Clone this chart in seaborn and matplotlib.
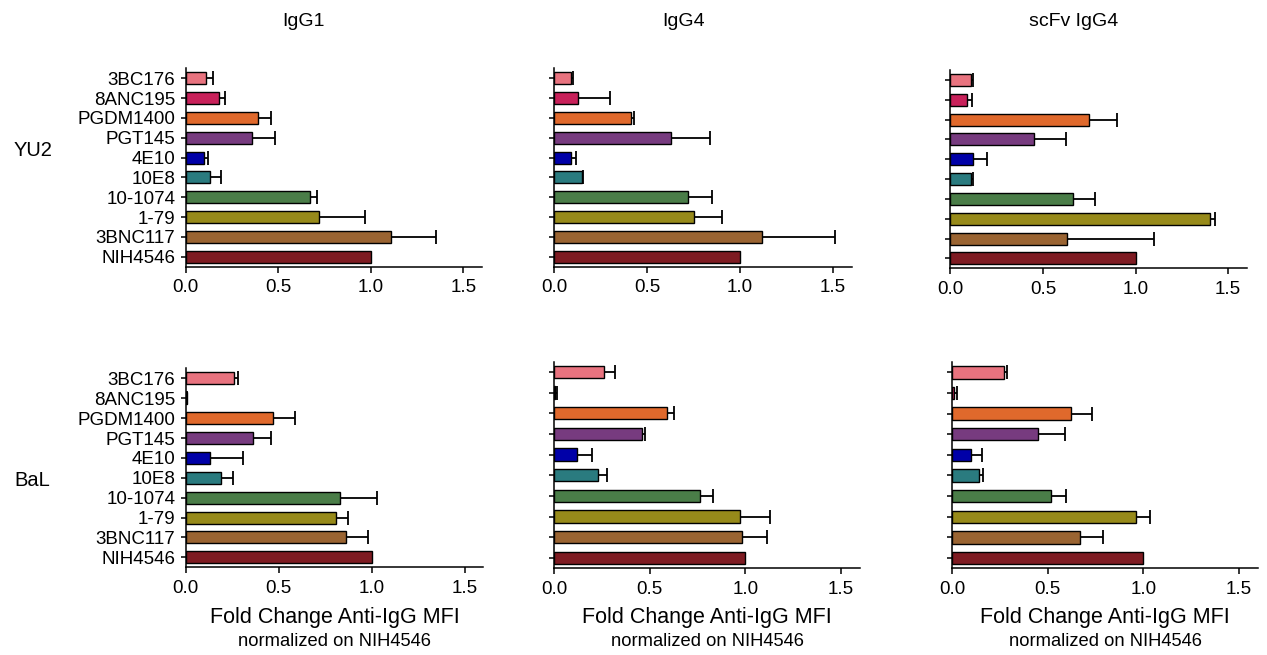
import numpy as np
import pandas as pd
import seaborn as sns
import matplotlib.pyplot as plt

# data (mean and positive error, fold change vs NIH4546)
antibodies = ['3BC176', '8ANC195', 'PGDM1400', 'PGT145', '4E10', '10E8',
              '10-1074', '1-79', '3BNC117', 'NIH4546']
colors = ['#E8737F', '#C8215A', '#E0692C', '#773B7F', '#0000A8', '#2A7B7F',
          '#4A7D48', '#978A1A', '#9A6432', '#7E1B22']
formats = ['IgG1', 'IgG4', 'scFv IgG4']
viruses = ['YU2', 'BaL']

yu2_igg1 = [0.11, 0.18, 0.39, 0.36, 0.10, 0.13, 0.67, 0.72, 1.11, 1.00]
yu2_igg1_err = [0.04, 0.03, 0.07, 0.12, 0.02, 0.06, 0.04, 0.25, 0.24, 0.0]
yu2_igg4 = [0.09, 0.13, 0.41, 0.63, 0.09, 0.15, 0.72, 0.75, 1.12, 1.00]
yu2_igg4_err = [0.013, 0.17, 0.02, 0.21, 0.026, 0.007, 0.13, 0.15, 0.39, 0.0]
yu2_scfv = [0.11, 0.09, 0.75, 0.45, 0.12, 0.11, 0.66, 1.40, 0.63, 1.00]
yu2_scfv_err = [0.012, 0.029, 0.15, 0.175, 0.08, 0.013, 0.12, 0.027, 0.47, 0.0]

bal_igg1 = [0.26, 0.005, 0.47, 0.36, 0.13, 0.19, 0.83, 0.81, 0.86, 1.00]
bal_igg1_err = [0.022, 0.004, 0.115, 0.10, 0.18, 0.066, 0.20, 0.06, 0.12, 0.0]
bal_igg4 = [0.26, 0.005, 0.59, 0.46, 0.12, 0.23, 0.76, 0.97, 0.98, 1.00]
bal_igg4_err = [0.06, 0.011, 0.034, 0.014, 0.075, 0.048, 0.071, 0.158, 0.134, 0.0]
bal_scfv = [0.27, 0.01, 0.62, 0.45, 0.10, 0.14, 0.52, 0.96, 0.67, 1.00]
bal_scfv_err = [0.017, 0.014, 0.113, 0.139, 0.059, 0.021, 0.075, 0.075, 0.117, 0.0]

panels = [
    (yu2_igg1, yu2_igg1_err), (yu2_igg4, yu2_igg4_err), (yu2_scfv, yu2_scfv_err),
    (bal_igg1, bal_igg1_err), (bal_igg4, bal_igg4_err), (bal_scfv, bal_scfv_err),
]

sns.set_theme(style='ticks')
plt.rcParams['font.family'] = ['Liberation Sans', 'DejaVu Sans']
plt.rcParams['axes.linewidth'] = 1.1
for key in ['text.color', 'axes.labelcolor', 'xtick.color', 'ytick.color', 'axes.edgecolor']:
    plt.rcParams[key] = 'black'

W, H = 1267, 655
fig = plt.figure(figsize=(W / 100, H / 100), dpi=100)

# axes boxes in pixels: left, right, top, bottom
boxes = [
    (185.7, 482, 68.4, 266.6), (554.3, 851.7, 68.4, 266.6), (950.3, 1246.7, 70, 268.3),
    (185.7, 483.3, 368.4, 567.3), (554.3, 860, 361.5, 568.3), (952, 1258, 362, 568.3),
]

for i, ((vals, errs), (l, r, t, b)) in enumerate(zip(panels, boxes)):
    ax = fig.add_axes([l / W, 1 - b / H, (r - l) / W, (b - t) / H])
    df = pd.DataFrame({'antibody': antibodies, 'fold': vals})
    sns.barplot(data=df, x='fold', y='antibody', hue='antibody', palette=colors,
                order=antibodies, orient='h', width=0.6, errorbar=None, saturation=1,
                edgecolor='black', linewidth=1.0, legend=False, ax=ax)

    # one-sided error bars (right side only), skipping the reference antibody
    err = np.array(errs)
    keep = err > 0
    pos = np.arange(len(antibodies))[keep]
    eb = ax.errorbar(np.array(vals)[keep], pos, xerr=[np.zeros(keep.sum()), err[keep]],
                     fmt='none', ecolor='black', elinewidth=1.3, capsize=5, capthick=1.3)
    eb[1][0].set_visible(False)

    ax.set_xlim(0, 1.6)
    ax.set_ylim(9.5, -0.5)
    ax.set_xticks([0, 0.5, 1.0, 1.5])
    ax.set_xticklabels(['0.0', '0.5', '1.0', '1.5'])
    ax.set_xlabel('')
    ax.set_ylabel('')
    ax.tick_params(axis='x', length=4, width=1.1, pad=5, labelsize=13.5)
    ax.tick_params(axis='y', length=3.5, width=1.1, pad=4, labelsize=13.5)
    if i % 3 != 0:
        ax.set_yticklabels([])
    sns.despine(ax=ax)
    if i >= 3:
        cx = (l + r) / 2 / W
        fig.text(cx, 1 - 617 / H, 'Fold Change Anti-IgG MFI', ha='center', va='center',
                 fontsize=15.5)
        fig.text(cx, 1 - 642 / H, 'normalized on NIH4546', ha='center', va='center',
                 fontsize=13.2)

# column and row headers
for name, x in zip(formats, [303, 684, 1074]):
    fig.text(x / W, 1 - 22 / H, name, ha='center', va='center', fontsize=14)
for name, y in zip(viruses, [151, 480]):
    fig.text(14 / W, 1 - y / H, name, ha='left', va='center', fontsize=14.5)

fig.savefig('out.png', dpi=100)
